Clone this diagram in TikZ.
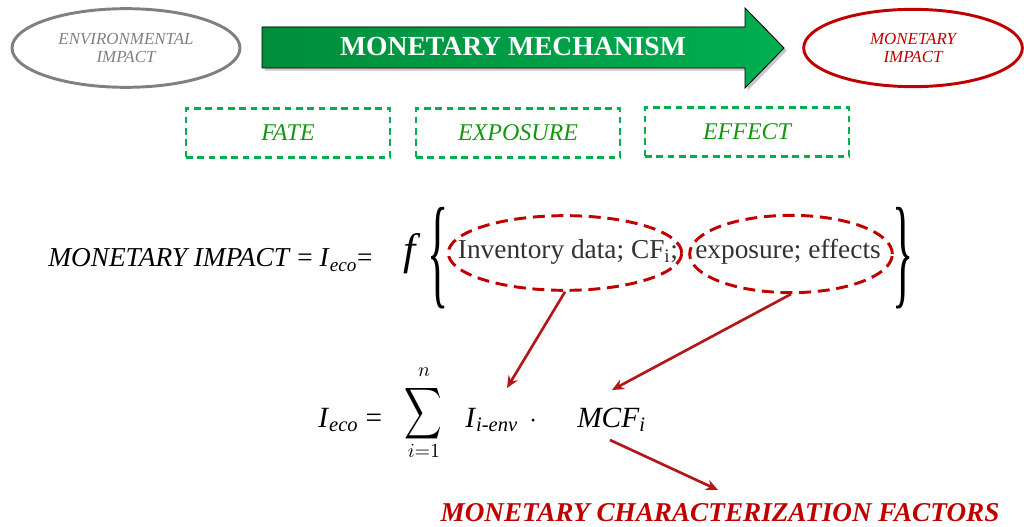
\documentclass[tikz,border=0pt]{standalone}
\usepackage{fontspec}
\setmainfont{Liberation Serif}
\usetikzlibrary{shapes.geometric,shadows,arrows.meta}

\definecolor{envgray}{RGB}{128,128,128}
\definecolor{monred}{RGB}{192,0,0}
\definecolor{linkred}{RGB}{178,24,24}
\definecolor{boxgreen}{RGB}{0,176,80}
\definecolor{stagegreen}{RGB}{20,150,20}
\definecolor{mechdark}{RGB}{0,142,60}
\definecolor{mechlight}{RGB}{0,174,80}
\definecolor{datagray}{RGB}{50,50,50}

\begin{document}
\begin{tikzpicture}[x=0.75pt,y=-0.75pt,
  impact/.style={ellipse, line width=2.2pt, minimum width=171pt, minimum height=59pt,
    align=center, font=\fontsize{12.7}{14}\selectfont\itshape},
  stagebox/.style={draw=boxgreen, line width=2.2pt, dash pattern=on 5pt off 3.5pt,
    minimum width=153pt, minimum height=36.5pt, text=stagegreen,
    font=\fontsize{18}{18}\selectfont\itshape},
  dataring/.style={ellipse, draw=monred, line width=2.2pt, dash pattern=on 9pt off 5pt, inner sep=0pt},
  link/.style={draw=linkred, line width=2pt, -{Stealth[length=9pt,width=8pt]}},
  eqtext/.style={inner sep=0pt, anchor=base west, font=\fontsize{20.5}{21}\selectfont}
]
\useasboundingbox (0,0) rectangle (1024,527);

% top row
\node[impact, draw=envgray, text=envgray] (envimp) at (126,48) {ENVIRONMENTAL\\IMPACT};
\node[impact, draw=monred, text=monred, minimum width=164pt, minimum height=58pt] (monimp) at (913,48) {MONETARY\\IMPACT};
\fill[shading=axis, left color=mechdark, right color=mechlight,
  drop shadow={opacity=0.45, shadow xshift=2pt, shadow yshift=-2pt}]
  (262,27) -- (745,27) -- (745,8) -- (784,48) -- (745,88) -- (745,68) -- (262,68) -- cycle;
\draw[black, line width=0.6pt] (262,27) -- (745,27) -- (745,8) -- (784,48) -- (745,88) -- (745,68) -- (262,68) -- cycle;
\node[text=white, font=\fontsize{20.7}{21}\selectfont\bfseries] (mech) at (513,47) {MONETARY MECHANISM};

% stages
\node[stagebox] (fate) at (288,133) {FATE};
\node[stagebox] (expo) at (518,133) {EXPOSURE};
\node[stagebox] (effe) at (747,132) {EFFECT};

% first formula
\node[eqtext] (moneq) at (48,267) {\textit{MONETARY IMPACT} = \textit{I}\textsubscript{\textit{eco}}=};
\node[inner sep=0pt, anchor=base, font=\fontsize{33}{33}\selectfont\itshape] (func) at (410,265) {f};
\node[inner sep=0pt, anchor=center] (lbrace) at (438,258) {\scalebox{0.36}[1]{\fontsize{92}{92}\selectfont\{}};
\node[inner sep=0pt, anchor=center] (rbrace) at (903,258) {\scalebox{0.36}[1]{\fontsize{92}{92}\selectfont\}}};
\node[dataring, minimum width=175pt, minimum height=56pt] (ring1) at (565,253) {};
\node[dataring, minimum width=152pt, minimum height=58pt] (ring2) at (791,254) {};
\node[inner sep=0pt, text=datagray, font=\fontsize{20.5}{21}\selectfont] (invdata) at (568,252) {Inventory data; CF\textsubscript{i};};
\node[inner sep=0pt, text=datagray, font=\fontsize{20.5}{21}\selectfont] (expeff) at (788,252) {exposure; effects};

% second formula
\node[eqtext, font=\fontsize{22}{22}\selectfont] (ieco) at (318,427) {\textit{I}\textsubscript{\textit{eco}} =};
\node[inner sep=0pt] (sumsign) at (423,414) {\scalebox{1.95}[2.7]{$\displaystyle\sum$}};
\node[inner sep=0pt] (sumtop) at (424,372) {\scalebox{1.5}{$n$}};
\node[inner sep=0pt] (sumbot) at (424,451) {\scalebox{1.5}{$i{=}1$}};
\node[eqtext, font=\fontsize{22}{22}\selectfont] (ienv) at (465,427) {\textit{I}\textsubscript{\textit{i-env}}};
\node[eqtext, font=\fontsize{22}{22}\selectfont] (dot) at (529,427) {$\cdot$};
\node[eqtext, font=\fontsize{22}{22}\selectfont] (mcf) at (577,427) {\textit{MCF}\textsubscript{\textit{i}}};
\node[inner sep=0pt, anchor=base, text=monred, font=\fontsize{20.4}{21}\selectfont\bfseries\itshape] (mcfac) at (720,521) {MONETARY CHARACTERIZATION FACTORS};

% connectors
\coordinate (tip1) at (507,388);
\coordinate (tip2) at (612,390);
\coordinate (tail3) at (610,440);
\coordinate (tip3) at (718,490);
\draw[link] (ring1.south) -- (tip1);
\draw[link] (ring2.south) -- (tip2);
\draw[link] (tail3) -- (tip3);
\end{tikzpicture}
\end{document}
